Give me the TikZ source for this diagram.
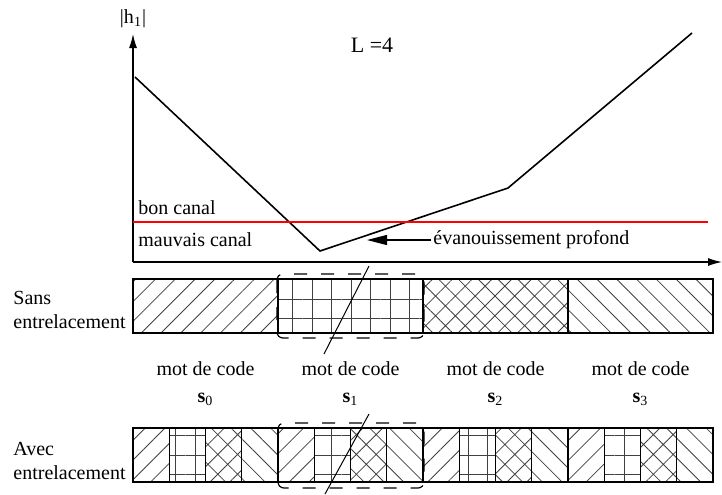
\documentclass[tikz,border=0pt]{standalone}
\usepackage{fontspec}
\setmainfont{Liberation Serif}
\usetikzlibrary{arrows.meta,patterns.meta}

\tikzset{
  pat0/.style={pattern={Lines[angle=45,distance=7pt,line width=0.4pt]},pattern color=black!75},
  pat1/.style={pattern={Hatch[angle=0,distance=9.75pt,line width=0.4pt]},pattern color=black!75},
  pat2/.style={pattern={Hatch[angle=45,distance=7pt,line width=0.4pt]},pattern color=black!75},
  pat3/.style={pattern={Lines[angle=-45,distance=7pt,line width=0.4pt]},pattern color=black!75},
}

\begin{document}
\begin{tikzpicture}[x=0.5pt,y=-0.5pt,
  axis/.style={line width=0.6pt,-{Latex[length=7pt,width=4pt]}},
  seg/.style={draw,line width=0.6pt},
  grp/.style={draw,line width=0.6pt,dash pattern=on 6.5pt off 7pt,rounded corners=3pt}]
  \useasboundingbox (0,0) rectangle (722,494);
  \coordinate (o) at (133,262);
  \coordinate (ytip) at (133,34);
  \coordinate (xtip) at (722,262);
  \draw[axis] (o) -- (ytip);
  \draw[axis] (o) -- (xtip);
  \node (hlab) at (133,19) {|h\textsubscript{1}|};
  \node (len) at (372,45) {\fontsize{11}{13}\selectfont L =4};
  \coordinate (dip) at (320,251);
  \draw[line width=0.8pt] (135,77) -- (dip) -- (508,188) -- (692,33);
  \draw[red,line width=0.6pt] (133,222) -- (708,222);
  \node[anchor=west,inner sep=0pt] (bon) at (138,208) {bon canal};
  \node[anchor=west,inner sep=0pt] (mauv) at (138,240) {mauvais canal};
  \node[anchor=west,inner sep=1pt] (evan) at (431,240) {évanouissement profond};
  \coordinate (fade) at (367,240);
  \draw[line width=0.6pt,-{Triangle[length=10pt,width=5pt]}] (evan.west) -- (fade);
  \foreach \i in {0,...,3}{
    \draw[seg,pat\i] (133+145*\i,279) rectangle ++(145,54);
    \node[align=center] (w\i) at (205.5+145*\i,383.5) {mot de code\\[1.5pt]\textbf{s}\textsubscript{\i}};
  }
  \foreach \j in {0,...,3}
    \foreach \i in {0,...,3}
      \draw[seg,pat\i] ({133+145*\j+36.25*\i},428) rectangle ++(36.25,54);
  \draw[grp] (277,274) rectangle (424,338);
  \draw[grp] (278,423) rectangle (424,488);
  \draw[line width=0.5pt] (369,266) -- (324,354);
  \draw[line width=0.5pt] (369,414) -- (325,494);
  \node[anchor=west,align=left,inner sep=0pt] (sans) at (13,309.5) {Sans\\entrelacement};
  \node[anchor=west,align=left,inner sep=0pt] (avec) at (13,460.5) {Avec\\entrelacement};
\end{tikzpicture}
\end{document}
